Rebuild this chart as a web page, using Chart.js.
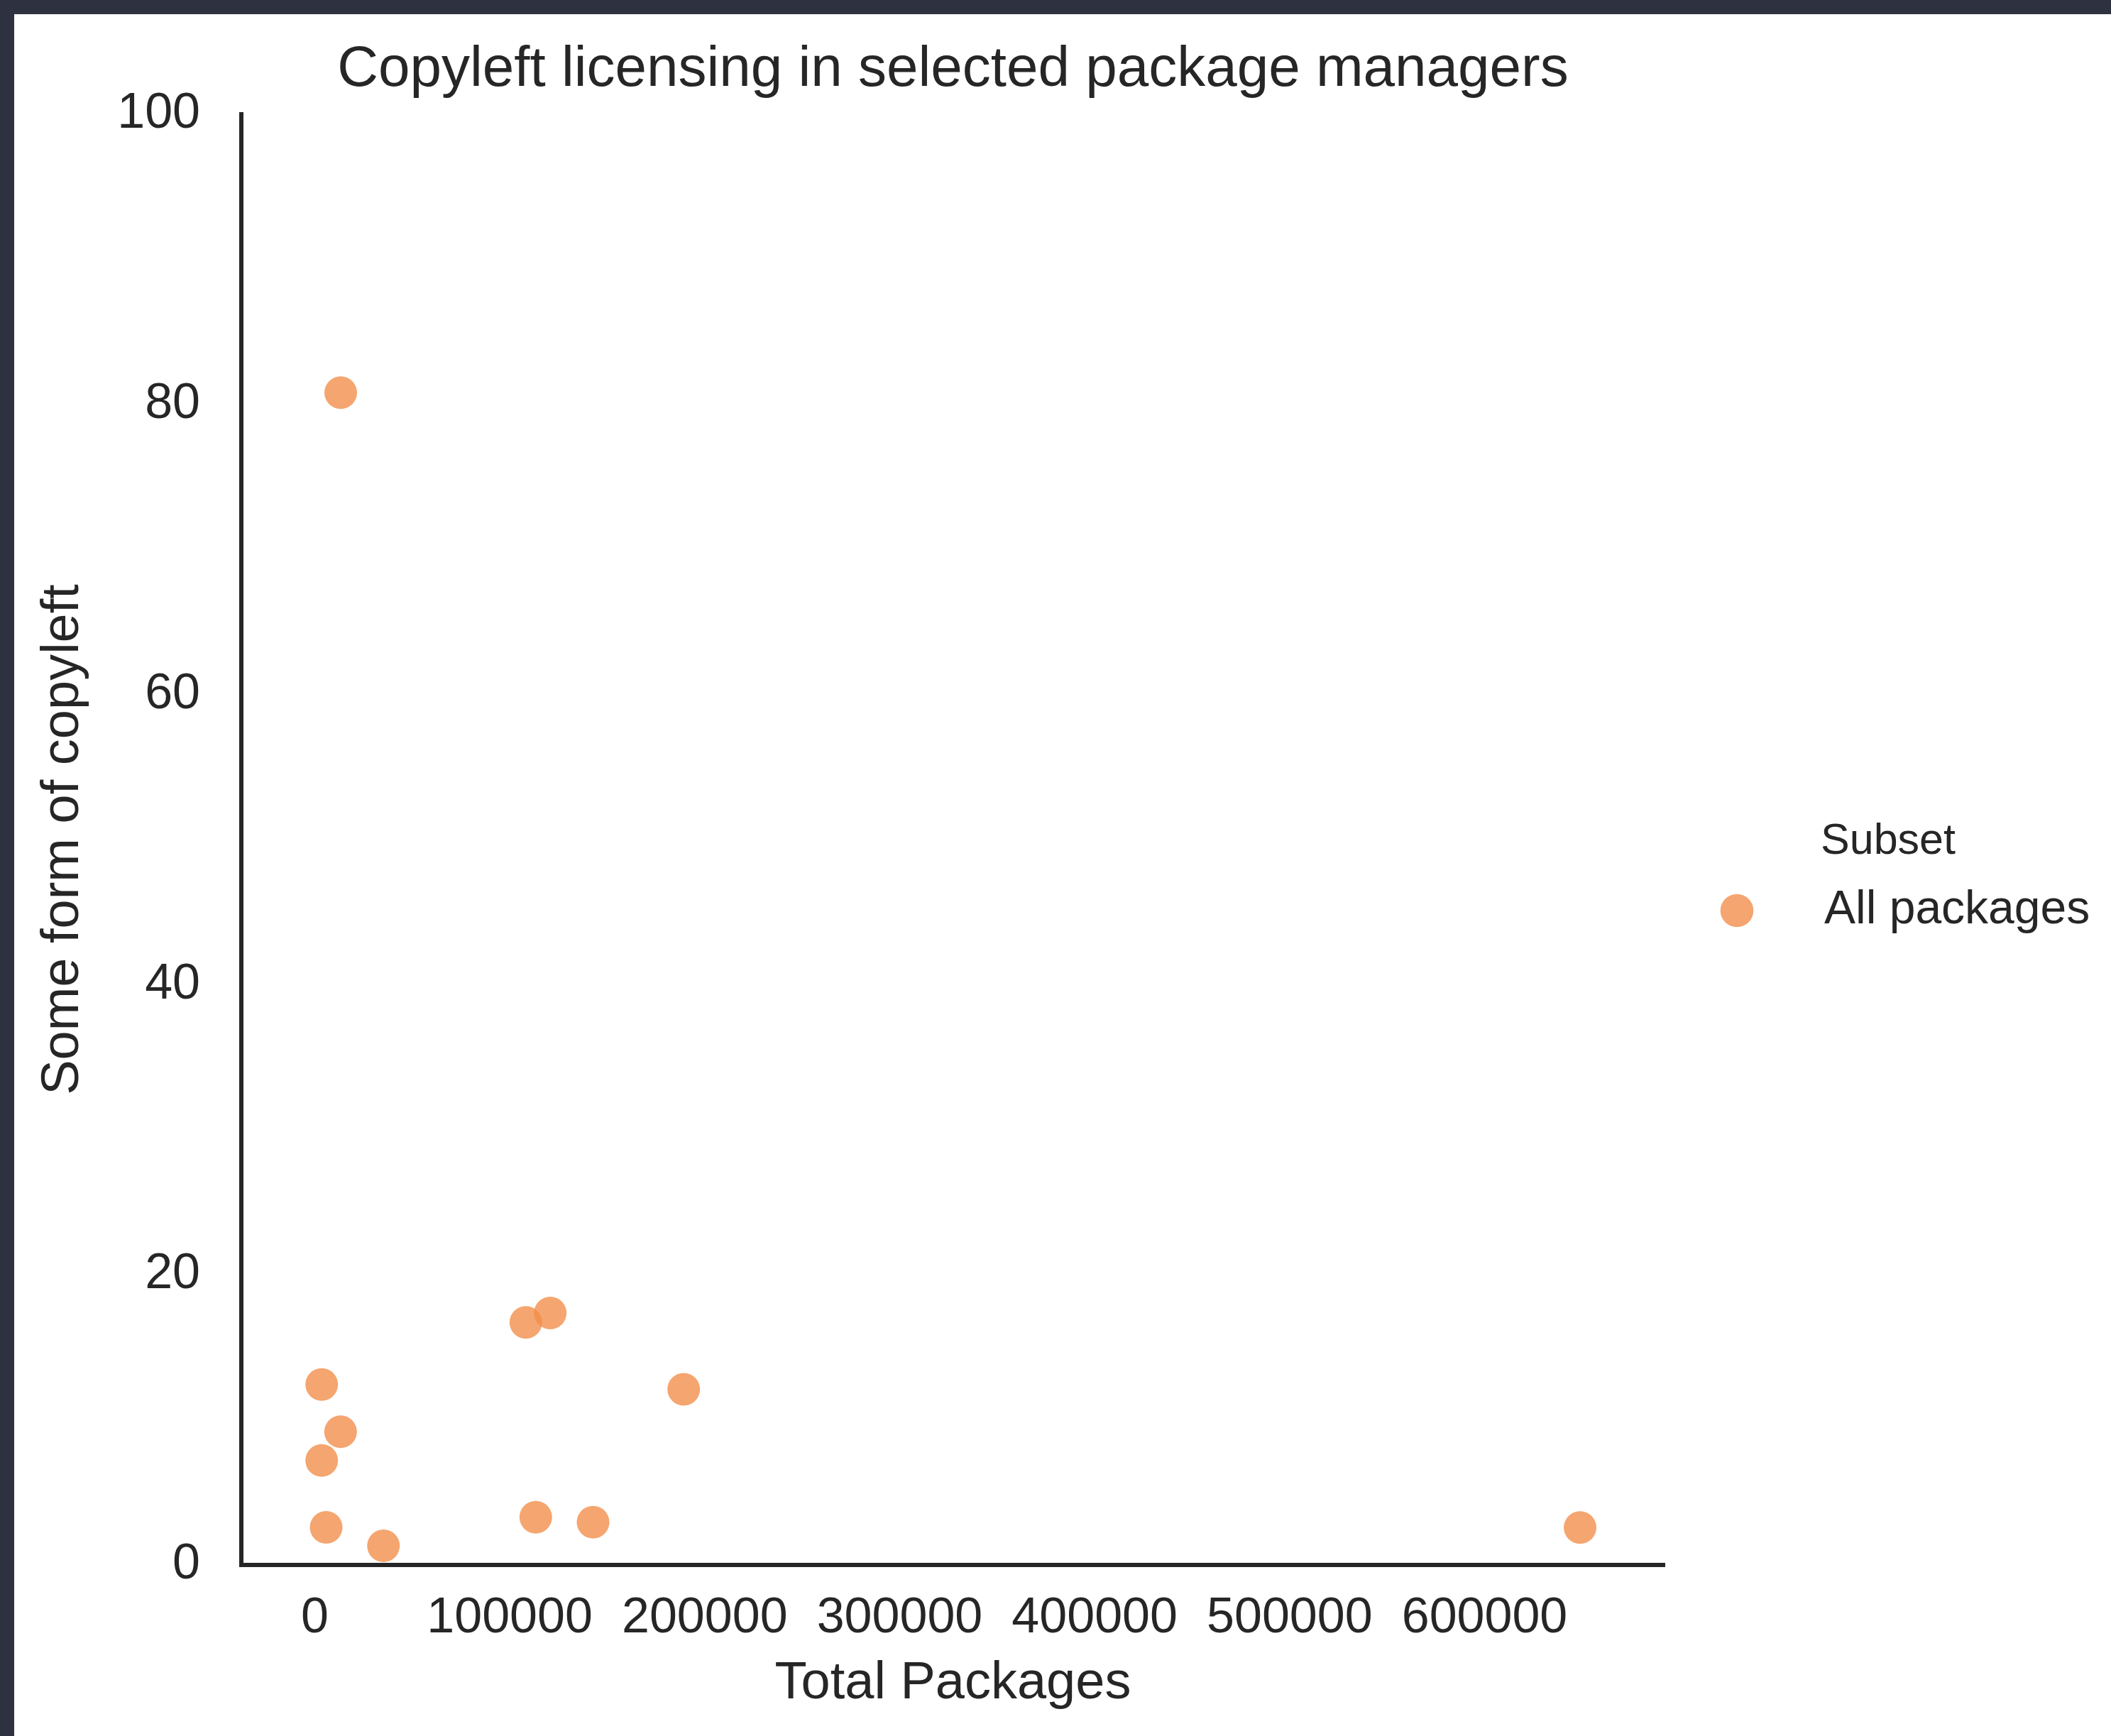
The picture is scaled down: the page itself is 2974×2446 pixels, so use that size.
<!DOCTYPE html>
<html>
<head>
<meta charset="utf-8">
<script src="https://cdn.jsdelivr.net/npm/chart.js@4.4.1/dist/chart.umd.min.js"></script>
<style>
  html, body { margin: 0; padding: 0; background: #ffffff; }
  canvas { display: block; }
</style>
</head>
<body>
<canvas id="c" width="2974" height="2446"></canvas>
<script>
// ---- data ----
const totalPackages = [13325, 3568, 13252, 3568, 5861, 35241, 108272, 120795, 113368, 142748, 189239, 648973];
const copyleftShare = [80.81, 12.44, 9.18, 7.20, 2.59, 1.32, 16.72, 17.37, 3.29, 2.95, 12.11, 2.58];
const xTickValues = [0, 100000, 200000, 300000, 400000, 500000, 600000];
const yTickValues = [0, 20, 40, 60, 80, 100];
const seriesLabel = 'All packages';
const legendTitle = 'Subset';
const chartTitle = 'Copyleft licensing in selected package managers';
const xTitle = 'Total Packages';
const yTitle = 'Some form of copyleft';

// ---- styles ----
const TEXT = '#262626';
const AXIS = '#262626';
const DOT = 'rgba(242,143,75,0.8)';
Chart.defaults.font.family = '"Liberation Sans", Arial, Helvetica, sans-serif';

// legend marker (circle placed left of the legend box centre)
const marker = document.createElement('canvas');
marker.width = 164; marker.height = 50;
(function () {
  const m = marker.getContext('2d');
  m.fillStyle = DOT;
  m.beginPath();
  m.arc(25, 25, 23.3, 0, Math.PI * 2);
  m.fill();
})();

const frame = {
  id: 'frame',
  beforeDraw(chart) {
    const ctx = chart.ctx;
    ctx.save();
    ctx.fillStyle = '#ffffff';
    ctx.fillRect(0, 0, chart.width, chart.height);
    ctx.fillStyle = '#2e3140';
    ctx.fillRect(0, 0, chart.width, 20);
    ctx.fillRect(0, 0, 20, chart.height);
    ctx.restore();
  }
};

const points = totalPackages.map((x, i) => ({ x: x, y: copyleftShare[i] }));

new Chart(document.getElementById('c'), {
  type: 'scatter',
  data: {
    datasets: [{
      label: seriesLabel,
      data: points,
      xAxisID: 'x',
      yAxisID: 'y',
      backgroundColor: DOT,
      borderWidth: 0,
      pointRadius: 23,
      pointHoverRadius: 23
    }]
  },
  options: {
    responsive: false,
    animation: false,
    devicePixelRatio: 1,
    layout: { padding: { left: 0, top: 0, right: 25, bottom: 0 } },
    plugins: {
      tooltip: { enabled: false },
      title: {
        display: true,
        text: chartTitle,
        color: TEXT,
        fullSize: false,
        font: { size: 80, weight: 'normal' },
        padding: { top: 51, bottom: 14 }
      },
      legend: {
        display: true,
        position: 'right',
        align: 'center',
        fullSize: false,
        maxWidth: 578,
        title: {
          display: true,
          text: legendTitle,
          color: TEXT,
          position: 'center',
          font: { size: 61 },
          padding: { top: 206, bottom: -79.2 }
        },
        labels: {
          color: TEXT,
          font: { size: 66 },
          usePointStyle: true,
          pointStyle: marker,
          boxWidth: 66,
          boxHeight: 50,
          padding: 100
        }
      }
    },
    scales: {
      x: {
        type: 'linear',
        position: 'bottom',
        min: -37644,
        max: 692290,
        afterBuildTicks: s => { s.ticks = xTickValues.map(v => ({ value: v })); },
        afterFit: s => { s.height = 241; },
        grid: { display: false, drawTicks: false },
        border: { display: true, color: AXIS, width: 6 },
        ticks: {
          color: TEXT,
          font: { size: 70 },
          padding: 34,
          maxRotation: 0,
          autoSkip: false,
          callback: v => String(v)
        },
        title: {
          display: true,
          text: xTitle,
          color: TEXT,
          font: { size: 74 },
          padding: { top: 0, bottom: 28.6 }
        }
      },
      y: {
        type: 'linear',
        position: 'left',
        min: 0,
        max: 100,
        afterBuildTicks: s => { s.ticks = yTickValues.map(v => ({ value: v })); },
        afterFit: s => { s.width = 340; },
        grid: { display: false, drawTicks: false },
        border: { display: true, color: AXIS, width: 6 },
        ticks: {
          color: TEXT,
          font: { size: 70 },
          padding: 58,
          callback: v => String(v)
        },
        title: {
          display: true,
          text: yTitle,
          color: TEXT,
          font: { size: 74 },
          padding: { top: 45, bottom: 0 }
        }
      },
      spacer: {
        type: 'linear',
        position: 'right',
        display: true,
        afterFit: s => { s.width = 26; },
        grid: { display: false, drawTicks: false },
        border: { display: false },
        ticks: { display: false },
        title: { display: false }
      }
    }
  },
  plugins: [frame]
});
</script>
</body>
</html>
